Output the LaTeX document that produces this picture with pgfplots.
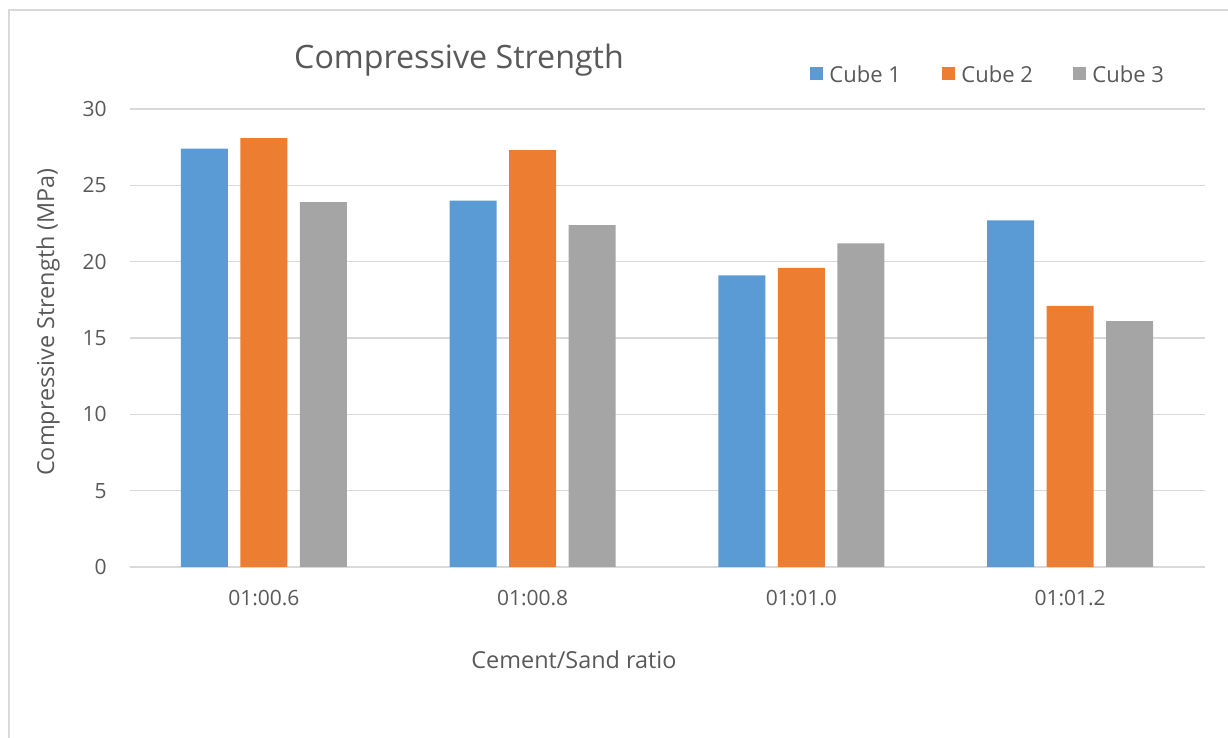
\documentclass[border=0pt]{standalone}
\usepackage{pgfplots}
\pgfplotsset{compat=1.18}
\usepackage{fontspec}
\setmainfont{Open Sans}
\definecolor{cubeA}{HTML}{5B9BD5}
\definecolor{cubeB}{HTML}{ED7D31}
\definecolor{cubeC}{HTML}{A5A5A5}
\definecolor{txt}{HTML}{595959}
\definecolor{gridc}{HTML}{D9D9D9}
\begin{document}
\begin{tikzpicture}
% page frame, cropped on the right and bottom
\useasboundingbox (0,0) rectangle (614pt,369pt);
\draw[gridc, line width=1pt] (4.5pt,-2pt) -- (4.5pt,364pt) -- (616pt,364pt);
\begin{axis}[
  at={(64.75pt,85.5pt)}, anchor=south west,
  scale only axis, width=537.5pt, height=229pt,
  xmin=-0.5, xmax=3.5, ymin=0, ymax=30,
  ybar=0pt, bar width=23.5pt,
  xtick={0,1,2,3},
  xticklabels={01:00.6,01:00.8,01:01.0,01:01.2},
  ytick={0,5,10,15,20,25,30},
  ymajorgrids, grid style={gridc, line width=0.75pt},
  axis line style={draw=none},
  major tick length=0pt,
  /pgf/number format/assume math mode=true,
  ticklabel style={font=\fontsize{10.5}{12}\selectfont, text=txt, inner sep=0pt},
  xticklabel style={anchor=center, yshift=-15.5pt},
  yticklabel style={anchor=east, xshift=-11.25pt},
  clip=false,
]
\addplot[fill=cubeA, draw=none, bar shift=-29.75pt] coordinates {(0,27.4) (1,24.0) (2,19.1) (3,22.7)};
\addplot[fill=cubeB, draw=none, bar shift=0pt] coordinates {(0,28.1) (1,27.3) (2,19.6) (3,17.1)};
\addplot[fill=cubeC, draw=none, bar shift=29.75pt] coordinates {(0,23.9) (1,22.4) (2,21.2) (3,16.1)};
\end{axis}
% title, axis labels
\node[text=txt, font=\fontsize{16.1}{19}\selectfont] at (229.5pt,339pt) {Compressive Strength};
\node[text=txt, font=\fontsize{11.7}{14}\selectfont] at (287pt,39pt) {Cement/Sand ratio};
\node[text=txt, font=\fontsize{11.7}{14}\selectfont, rotate=90] at (24pt,208pt) {Compressive Strength (MPa)};
% legend
\foreach \c/\lx/\lab in {cubeA/408/Cube 1, cubeB/474/Cube 2, cubeC/539.5/Cube 3}{
  \fill[\c] (\lx pt-3.25pt,332pt-3.25pt) rectangle (\lx pt+3.25pt,332pt+3.25pt);
  \node[text=txt, font=\fontsize{11}{13}\selectfont, anchor=west, inner sep=0pt] at (\lx pt+6.5pt,332pt) {\lab};
}
\end{tikzpicture}
\end{document}
